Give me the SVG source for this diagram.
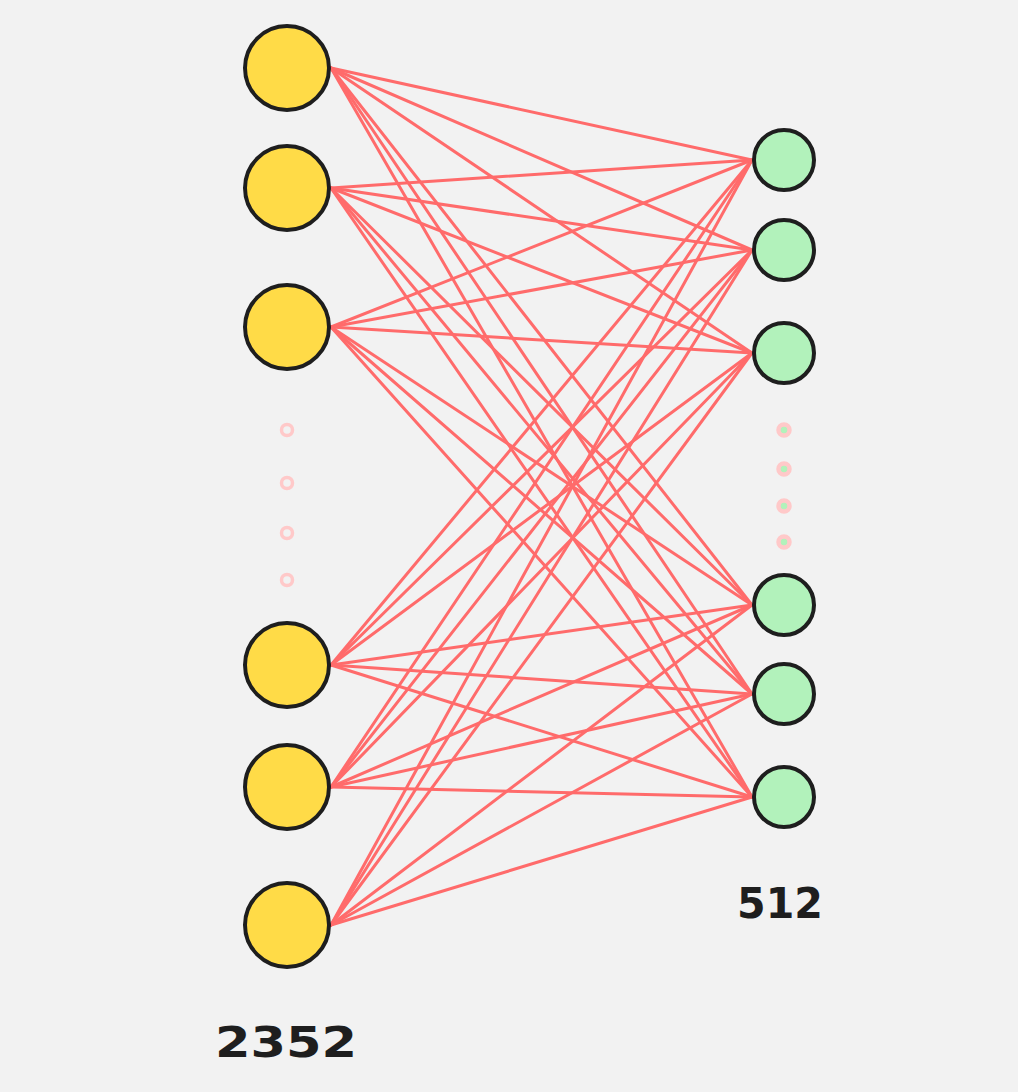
<svg xmlns="http://www.w3.org/2000/svg" width="1018" height="1092" viewBox="0 0 1018 1092">
<style>
.in{fill:#ffdb47;stroke:#1e1e1e;stroke-width:4}
.out{fill:#b2f2bb;stroke:#1e1e1e;stroke-width:4}
.e line{stroke:#ff6b6b;stroke-width:3;stroke-linecap:round}
.dl{fill:#f2f2f2;stroke:#ffc9c9;stroke-width:3.5}
.dr{fill:#b2f2bb;stroke:#ffc9c9;stroke-width:4.5}
.lbl{font-family:"DejaVu Sans","Liberation Sans",sans-serif;font-size:42px;font-weight:bold;fill:#1e1e1e}
</style>
<rect width="1018" height="1092" fill="#f2f2f2"/>
<g id="connectors" class="e">
<line x1="331" y1="68" x2="752" y2="160"/><line x1="331" y1="68" x2="752" y2="250"/><line x1="331" y1="68" x2="752" y2="353"/><line x1="331" y1="68" x2="752" y2="605"/><line x1="331" y1="68" x2="752" y2="694"/><line x1="331" y1="68" x2="752" y2="797"/>
<line x1="331" y1="188" x2="752" y2="160"/><line x1="331" y1="188" x2="752" y2="250"/><line x1="331" y1="188" x2="752" y2="353"/><line x1="331" y1="188" x2="752" y2="605"/><line x1="331" y1="188" x2="752" y2="694"/><line x1="331" y1="188" x2="752" y2="797"/>
<line x1="331" y1="327" x2="752" y2="160"/><line x1="331" y1="327" x2="752" y2="250"/><line x1="331" y1="327" x2="752" y2="353"/><line x1="331" y1="327" x2="752" y2="605"/><line x1="331" y1="327" x2="752" y2="694"/><line x1="331" y1="327" x2="752" y2="797"/>
<line x1="331" y1="665" x2="752" y2="160"/><line x1="331" y1="665" x2="752" y2="250"/><line x1="331" y1="665" x2="752" y2="353"/><line x1="331" y1="665" x2="752" y2="605"/><line x1="331" y1="665" x2="752" y2="694"/><line x1="331" y1="665" x2="752" y2="797"/>
<line x1="331" y1="787" x2="752" y2="160"/><line x1="331" y1="787" x2="752" y2="250"/><line x1="331" y1="787" x2="752" y2="353"/><line x1="331" y1="787" x2="752" y2="605"/><line x1="331" y1="787" x2="752" y2="694"/><line x1="331" y1="787" x2="752" y2="797"/>
<line x1="331" y1="925" x2="752" y2="160"/><line x1="331" y1="925" x2="752" y2="250"/><line x1="331" y1="925" x2="752" y2="353"/><line x1="331" y1="925" x2="752" y2="605"/><line x1="331" y1="925" x2="752" y2="694"/><line x1="331" y1="925" x2="752" y2="797"/>
</g>
<g id="in1"><circle class="in" cx="287" cy="68" r="42"/></g>
<g id="in2"><circle class="in" cx="287" cy="188" r="42"/></g>
<g id="in3"><circle class="in" cx="287" cy="327" r="42"/></g>
<g id="in4"><circle class="in" cx="287" cy="665" r="42"/></g>
<g id="in5"><circle class="in" cx="287" cy="787" r="42"/></g>
<g id="in6"><circle class="in" cx="287" cy="925" r="42"/></g>
<g id="out1"><circle class="out" cx="784" cy="160" r="30"/></g>
<g id="out2"><circle class="out" cx="784" cy="250" r="30"/></g>
<g id="out3"><circle class="out" cx="784" cy="353" r="30"/></g>
<g id="out4"><circle class="out" cx="784" cy="605" r="30"/></g>
<g id="out5"><circle class="out" cx="784" cy="694" r="30"/></g>
<g id="out6"><circle class="out" cx="784" cy="797" r="30"/></g>
<g id="left-dots">
<circle class="dl" cx="287" cy="430" r="5.5"/><circle class="dl" cx="287" cy="483" r="5.5"/><circle class="dl" cx="287" cy="533" r="5.5"/><circle class="dl" cx="287" cy="580" r="5.5"/>
</g>
<g id="right-dots">
<circle class="dr" cx="784" cy="430" r="5.5"/><circle class="dr" cx="784" cy="469" r="5.5"/><circle class="dr" cx="784" cy="506" r="5.5"/><circle class="dr" cx="784" cy="542" r="5.5"/>
</g>
<g id="label-in"><text class="lbl" x="215" y="1057" textLength="142" lengthAdjust="spacingAndGlyphs">2352</text></g>
<g id="label-out"><text class="lbl" x="737" y="918" textLength="86" lengthAdjust="spacingAndGlyphs">512</text></g>
</svg>
